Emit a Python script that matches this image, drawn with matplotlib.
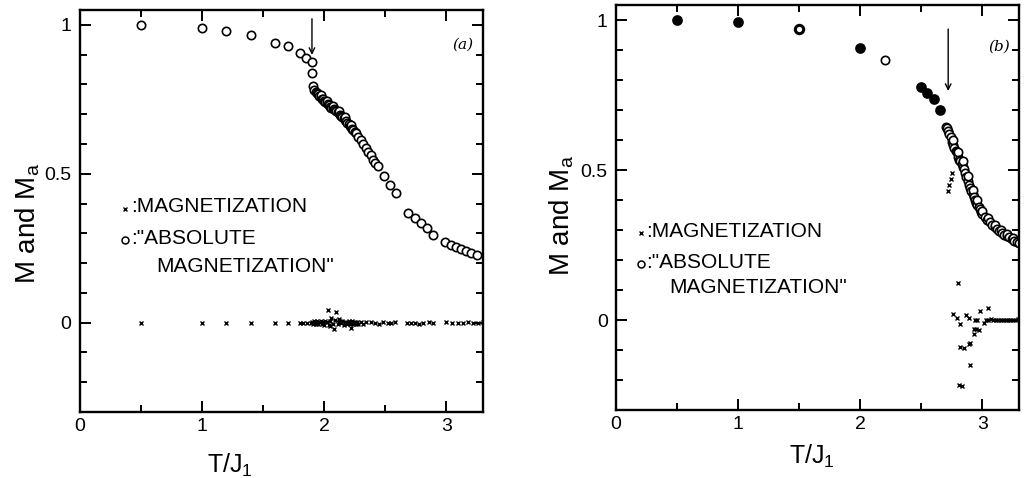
import matplotlib
matplotlib.use("Agg")
import matplotlib.pyplot as plt
from matplotlib.ticker import MultipleLocator

plt.rcParams['font.family'] = ['Liberation Sans', 'DejaVu Sans']

# ---- panel (a) data ----
a_circ_t = [0.5, 1.0, 1.2, 1.4, 1.6, 1.7, 1.8, 1.85, 1.9, 1.9, 1.91,
            1.92, 1.93, 1.94, 1.95, 1.96, 1.97, 1.97, 1.98, 1.99, 2.00, 2.01,
            2.02, 2.02, 2.03, 2.04, 2.05, 2.06, 2.07, 2.07, 2.08, 2.09, 2.10,
            2.11, 2.12, 2.12, 2.13, 2.14, 2.15, 2.16, 2.17, 2.17, 2.18, 2.19,
            2.20, 2.21, 2.22, 2.22, 2.23, 2.24, 2.25, 2.26, 2.28, 2.30, 2.32,
            2.34, 2.36, 2.38, 2.40, 2.42, 2.44,
            2.49, 2.54, 2.59, 2.69, 2.74, 2.79, 2.84, 2.89,
            2.99, 3.04, 3.08, 3.12, 3.16, 3.20, 3.25]
a_circ_m = [1.0, 0.99, 0.98, 0.965, 0.94, 0.93, 0.905, 0.89, 0.877, 0.838, 0.795,
            0.782, 0.775, 0.770, 0.768, 0.762, 0.758, 0.765, 0.752, 0.750, 0.745, 0.742,
            0.738, 0.745, 0.733, 0.730, 0.726, 0.722, 0.720, 0.728, 0.716, 0.713, 0.710,
            0.706, 0.703, 0.712, 0.698, 0.694, 0.690, 0.686, 0.682, 0.690, 0.676, 0.672,
            0.667, 0.662, 0.658, 0.665, 0.652, 0.648, 0.641, 0.636, 0.625, 0.612, 0.600,
            0.586, 0.572, 0.562, 0.548, 0.537, 0.525,
            0.493, 0.463, 0.435, 0.370, 0.350, 0.335, 0.318, 0.295,
            0.270, 0.262, 0.254, 0.247, 0.240, 0.234, 0.228]

a_x_t = [0.5, 1.0, 1.2, 1.4, 1.6, 1.7, 1.8, 1.83, 1.86, 1.89,
         1.90, 1.91, 1.92, 1.93, 1.94, 1.95, 1.96, 1.97, 1.98, 1.99,
         2.00, 2.01, 2.02, 2.04, 2.05, 2.07, 2.09, 2.11, 2.12, 2.13,
         2.14, 2.15, 2.16, 2.17, 2.18, 2.19, 2.20, 2.21, 2.23, 2.24,
         2.25, 2.26, 2.27, 2.28, 2.30, 2.32, 2.34,
         2.38, 2.42, 2.45, 2.48, 2.52, 2.55, 2.58,
         2.68, 2.71, 2.74, 2.78, 2.81, 2.86, 2.89,
         3.00, 3.05, 3.10, 3.14, 3.18, 3.22, 3.26, 3.30,
         2.03, 2.10, 2.06, 2.08, 2.22, 2.05, 2.12]
a_x_m = [0.0, 0.0, 0.0, 0.0, 0.0, 0.0, 0.0, 0.0, 0.0, 0.0,
         0.003, -0.004, 0.005, -0.003, 0.006, -0.006, 0.002, 0.007, -0.005, 0.004,
         -0.007, 0.006, 0.002, -0.008, 0.005, -0.004, 0.008, -0.006, 0.003, 0.007,
         -0.002, 0.006, -0.007, 0.004, 0.001, -0.005, 0.006, -0.003, 0.005, -0.006,
         0.003, -0.004, 0.002, -0.005, 0.003, -0.003, 0.002,
         0.004, 0.0, -0.003, 0.002, 0.0, -0.002, 0.003,
         0.0, -0.002, 0.0, -0.003, 0.0, 0.002, 0.0,
         0.002, -0.002, 0.0, 0.0, 0.002, 0.0, 0.0, 0.003,
         0.044, 0.035, 0.016, -0.021, -0.018, -0.010, 0.012]

# ---- panel (b) data ----
b_fill_t = [0.5, 1.0, 2.0, 2.5, 2.55, 2.6, 2.65]
b_fill_m = [1.0, 0.995, 0.908, 0.778, 0.757, 0.738, 0.70]
b_ring_t = [1.5]
b_ring_m = [0.97]
b_circ_t = [2.2,
            2.70, 2.71, 2.72, 2.73, 2.74, 2.75, 2.76, 2.76, 2.77, 2.78, 2.79,
            2.80, 2.80, 2.81, 2.82, 2.83, 2.84, 2.84, 2.85, 2.86, 2.87, 2.88,
            2.88, 2.89, 2.90, 2.91, 2.92, 2.92, 2.93, 2.94, 2.95, 2.96, 2.96,
            2.97, 2.98, 2.99, 3.00, 3.00, 3.02, 3.04, 3.05, 3.06, 3.08, 3.10,
            3.10, 3.12, 3.14, 3.15, 3.16, 3.18, 3.20, 3.20, 3.22, 3.24, 3.25,
            3.26, 3.28, 3.30]
b_circ_m = [0.867,
            0.645, 0.640, 0.630, 0.620, 0.610, 0.595, 0.585, 0.600, 0.575, 0.565, 0.560,
            0.545, 0.560, 0.535, 0.530, 0.520, 0.512, 0.530, 0.505, 0.490, 0.478, 0.465,
            0.480, 0.452, 0.440, 0.430, 0.420, 0.435, 0.412, 0.400, 0.390, 0.385, 0.400,
            0.378, 0.370, 0.362, 0.355, 0.365, 0.345, 0.335, 0.340, 0.326, 0.318, 0.310,
            0.318, 0.303, 0.297, 0.300, 0.290, 0.285, 0.280, 0.287, 0.276, 0.270, 0.275,
            0.265, 0.262, 0.258]

b_x_t = [2.72, 2.73, 2.74, 2.75,
         2.80, 2.76, 2.79, 2.82, 2.87, 2.89, 2.94, 2.98, 3.05, 3.01,
         2.93, 2.97, 2.93, 2.90, 2.82, 2.85, 2.89, 2.90, 2.83, 2.81,
         2.95, 2.96,
         3.03, 3.05, 3.07, 3.09, 3.11, 3.13, 3.15, 3.17, 3.19, 3.21,
         3.23, 3.25, 3.27, 3.29]
b_x_m = [0.43, 0.45, 0.47, 0.49,
         0.125, 0.02, 0.006, -0.013, 0.017, 0.006, 0.0, 0.031, 0.041, -0.011,
         -0.028, -0.033, -0.047, -0.076, -0.09, -0.092, -0.078, -0.151, -0.221, -0.215,
         -0.03, 0.0,
         0.002, 0.0, 0.003, 0.001, 0.0, 0.002, 0.0, 0.001, 0.0, 0.002,
         0.0, 0.001, 0.002, 0.003]

xticks = [0, 1, 2, 3]
xticklabels = ['0', '1', '2', '3']
yticks = [0, 0.5, 1]
yticklabels = ['0', '0.5', '1']


def style_axes(ax):
    ax.set_xlim(0, 3.3)
    ax.set_ylim(-0.3, 1.05)
    ax.set_xticks(xticks)
    ax.set_xticklabels(xticklabels)
    ax.set_yticks(yticks)
    ax.set_yticklabels(yticklabels)
    ax.xaxis.set_minor_locator(MultipleLocator(0.5))
    ax.yaxis.set_minor_locator(MultipleLocator(0.1))
    ax.tick_params(which='both', direction='in', top=True, right=True,
                   width=1.4, labelsize=14)
    ax.tick_params(which='major', length=8)
    ax.tick_params(which='minor', length=5)
    ax.tick_params(axis='y', pad=6)
    ax.tick_params(axis='x', pad=4)
    for sp in ax.spines.values():
        sp.set_linewidth(1.7)
    ax.set_xlabel('T/J$_\\mathregular{1}$', fontsize=18)
    ax.set_ylabel('M and M$_\\mathregular{a}$', fontsize=20)


fig = plt.figure(figsize=(10.29, 4.78), dpi=100)
ax1 = fig.add_axes([0.0777, 0.138, 0.3916, 0.841])
ax2 = fig.add_axes([0.5986, 0.142, 0.3917, 0.847])

# panel (a)
ax1.plot(a_circ_t, a_circ_m, 'o', mfc='white', mec='black', ms=6, mew=1.2)
ax1.plot(a_x_t, a_x_m, 'x', color='black', ms=3.5, mew=1.0)
ax1.annotate('', xy=(1.9, 0.89), xytext=(1.9, 1.03),
             arrowprops=dict(arrowstyle='->', color='black', lw=1.0))
ax1.text(3.05, 0.92, '(a)', family='DejaVu Serif', style='italic', fontsize=11)
style_axes(ax1)
ax1.xaxis.set_label_coords(0.372, -0.1)
ax1.yaxis.set_label_coords(-0.095, 0.47)

# legend text (a)
ax1.plot([0.112], [0.505], 'x', color='black', ms=3.5, mew=1.0,
         transform=ax1.transAxes, clip_on=False)
ax1.plot([0.112], [0.428], 'o', mfc='white', mec='black', ms=5, mew=1.1,
         transform=ax1.transAxes, clip_on=False)
ax1.text(0.128, 0.498, ':MAGNETIZATION', transform=ax1.transAxes,
         fontsize=15, va='baseline')
ax1.text(0.128, 0.418, ':"ABSOLUTE', transform=ax1.transAxes,
         fontsize=15, va='baseline')
ax1.text(0.19, 0.349, 'MAGNETIZATION"', transform=ax1.transAxes,
         fontsize=15, va='baseline')

# panel (b)
ax2.plot(b_fill_t, b_fill_m, 'o', mfc='black', mec='black', ms=6.5, mew=1.2)
ax2.plot(b_ring_t, b_ring_m, 'o', mfc='white', mec='black', ms=6, mew=2.2)
ax2.plot(b_circ_t, b_circ_m, 'o', mfc='white', mec='black', ms=6, mew=1.2)
ax2.plot(b_x_t, b_x_m, 'x', color='black', ms=3.5, mew=1.0)
ax2.annotate('', xy=(2.72, 0.755), xytext=(2.72, 0.98),
             arrowprops=dict(arrowstyle='->', color='black', lw=1.0))
ax2.text(3.05, 0.9, '(b)', family='DejaVu Serif', style='italic', fontsize=11)
style_axes(ax2)
ax2.xaxis.set_label_coords(0.486, -0.08)
ax2.yaxis.set_label_coords(-0.1, 0.48)

# legend text (b)
ax2.plot([0.061], [0.437], 'x', color='black', ms=3.5, mew=1.0,
         transform=ax2.transAxes, clip_on=False)
ax2.plot([0.061], [0.36], 'o', mfc='white', mec='black', ms=5, mew=1.1,
         transform=ax2.transAxes, clip_on=False)
ax2.text(0.075, 0.427, ':MAGNETIZATION', transform=ax2.transAxes,
         fontsize=15, va='baseline')
ax2.text(0.075, 0.351, ':"ABSOLUTE', transform=ax2.transAxes,
         fontsize=15, va='baseline')
ax2.text(0.132, 0.289, 'MAGNETIZATION"', transform=ax2.transAxes,
         fontsize=15, va='baseline')

fig.savefig('out.png', dpi=100)
